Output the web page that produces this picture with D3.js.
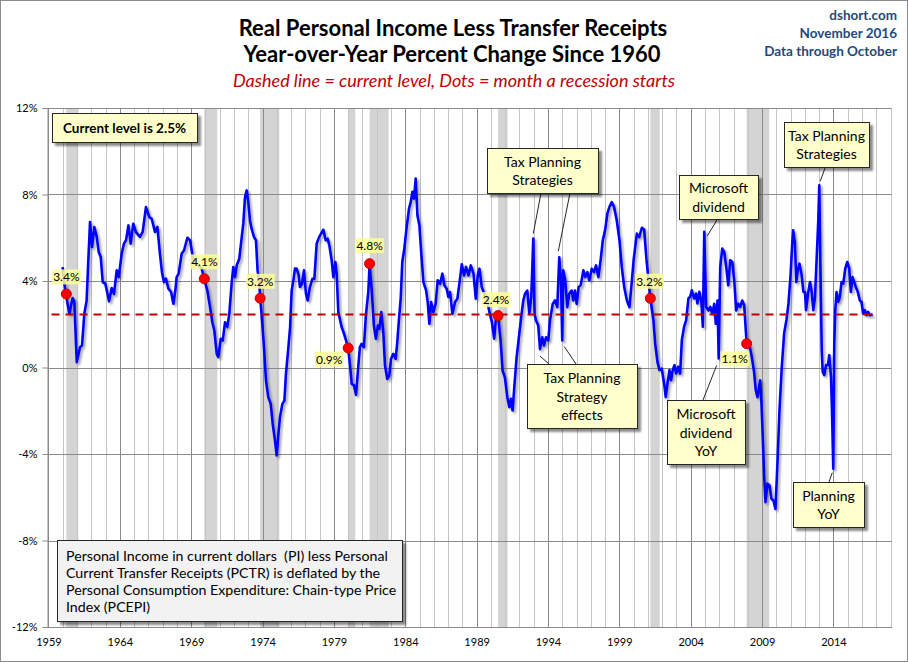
<!DOCTYPE html>
<html>
<head>
<meta charset="utf-8">
<script src="https://cdn.jsdelivr.net/npm/d3@7"></script>
<style>
  body { margin: 0; background: #fff; }
  text { font-family: Lato, "Open Sans", sans-serif; white-space: pre; }
</style>
</head>
<body>
<div id="chart"></div>
<script>
// Chart size
const width = 908;
const height = 662;

// Monthly-ish readings of the YoY % change (decimal year, value)
const dates = [
  1959.99, 1960.08, 1960.23, 1960.46, 1960.69, 1960.81, 1960.98, 1961.21, 1961.35, 1961.51, 1961.67, 1961.79, 1961.91,
  1962.05, 1962.21, 1962.38, 1962.52, 1962.66, 1962.80, 1962.98, 1963.08, 1963.24, 1963.43, 1963.59, 1963.78, 1963.92,
  1964.13, 1964.29, 1964.43, 1964.60, 1964.76, 1964.94, 1965.13, 1965.41, 1965.60, 1965.83, 1966.06, 1966.23, 1966.46,
  1966.63, 1966.81, 1966.95, 1967.09, 1967.23, 1967.40, 1967.59, 1967.75, 1967.89, 1967.98, 1968.12, 1968.33, 1968.50,
  1968.73, 1968.92, 1969.11, 1969.27, 1969.50, 1969.74, 1969.92, 1970.13, 1970.32, 1970.48, 1970.62, 1970.79, 1970.90,
  1971.07, 1971.21, 1971.37, 1971.53, 1971.67, 1971.83, 1971.95, 1972.07, 1972.19, 1972.37, 1972.54, 1972.65, 1972.77,
  1972.89, 1973.00, 1973.12, 1973.23, 1973.40, 1973.54, 1973.65, 1973.75, 1973.83, 1973.93, 1974.10, 1974.24, 1974.40,
  1974.57, 1974.71, 1974.87, 1974.99, 1975.11, 1975.22, 1975.39, 1975.53, 1975.64, 1975.81, 1975.93, 1976.04, 1976.16,
  1976.27, 1976.39, 1976.53, 1976.62, 1976.76, 1976.90, 1977.04, 1977.16, 1977.32, 1977.49, 1977.63, 1977.79, 1977.96,
  1978.10, 1978.26, 1978.42, 1978.56, 1978.68, 1978.84, 1978.96, 1979.10, 1979.19, 1979.31, 1979.54, 1979.71, 1979.85,
  1980.00, 1980.13, 1980.25, 1980.41, 1980.55, 1980.71, 1980.82, 1980.94, 1981.10, 1981.24, 1981.41, 1981.50, 1981.66,
  1981.80, 1981.94, 1982.08, 1982.18, 1982.32, 1982.46, 1982.58, 1982.74, 1982.88, 1983.00, 1983.16, 1983.33, 1983.44,
  1983.56, 1983.68, 1983.79, 1983.93, 1984.10, 1984.26, 1984.38, 1984.50, 1984.61, 1984.73, 1984.85, 1984.99, 1985.10,
  1985.27, 1985.46, 1985.57, 1985.69, 1985.81, 1985.97, 1986.13, 1986.27, 1986.44, 1986.60, 1986.74, 1986.90, 1987.02,
  1987.14, 1987.30, 1987.49, 1987.65, 1987.79, 1987.96, 1988.12, 1988.26, 1988.43, 1988.59, 1988.78, 1988.94, 1989.08,
  1989.20, 1989.36, 1989.53, 1989.71, 1989.90, 1990.07, 1990.23, 1990.37, 1990.50, 1990.68, 1990.82, 1990.98, 1991.15,
  1991.29, 1991.40, 1991.52, 1991.64, 1991.80, 1991.99, 1992.15, 1992.27, 1992.39, 1992.55, 1992.69, 1992.83, 1992.97,
  1993.06, 1993.16, 1993.32, 1993.44, 1993.60, 1993.72, 1993.86, 1994.02, 1994.14, 1994.33, 1994.49, 1994.65, 1994.79,
  1994.91, 1995.00, 1995.07, 1995.21, 1995.35, 1995.49, 1995.66, 1995.77, 1995.89, 1996.01, 1996.15, 1996.29, 1996.48,
  1996.62, 1996.76, 1996.90, 1997.07, 1997.23, 1997.37, 1997.53, 1997.70, 1997.84, 1998.00, 1998.16, 1998.30, 1998.47,
  1998.63, 1998.82, 1999.01, 1999.17, 1999.34, 1999.53, 1999.71, 1999.88, 2000.00, 2000.11, 2000.23, 2000.39, 2000.58,
  2000.74, 2000.90, 2001.17, 2001.39, 2001.51, 2001.67, 2001.81, 2001.97, 2002.14, 2002.25, 2002.37, 2002.51, 2002.62,
  2002.74, 2002.86, 2002.98, 2003.12, 2003.26, 2003.38, 2003.54, 2003.68, 2003.84, 2003.96, 2004.08, 2004.24, 2004.38,
  2004.47, 2004.61, 2004.75, 2004.85, 2004.95, 2005.08, 2005.25, 2005.37, 2005.51, 2005.65, 2005.76, 2005.88, 2005.96,
  2006.07, 2006.21, 2006.35, 2006.49, 2006.63, 2006.77, 2006.91, 2007.05, 2007.19, 2007.33, 2007.47, 2007.61, 2007.75,
  2007.92, 2008.12, 2008.28, 2008.44, 2008.56, 2008.68, 2008.77, 2008.87, 2008.96, 2009.05, 2009.15, 2009.24, 2009.38,
  2009.52, 2009.66, 2009.80, 2009.94, 2010.08, 2010.22, 2010.38, 2010.55, 2010.71, 2010.85, 2011.00, 2011.12, 2011.18,
  2011.30, 2011.40, 2011.50, 2011.62, 2011.76, 2011.90, 2012.01, 2012.08, 2012.22, 2012.36, 2012.48, 2012.59, 2012.71,
  2012.83, 2012.94, 2013.01, 2013.11, 2013.18, 2013.25, 2013.36, 2013.48, 2013.62, 2013.71, 2013.83, 2013.90, 2013.99,
  2014.06, 2014.13, 2014.22, 2014.34, 2014.45, 2014.57, 2014.69, 2014.83, 2014.97, 2015.11, 2015.22, 2015.34, 2015.46,
  2015.57, 2015.71, 2015.85, 2015.97, 2016.08, 2016.20, 2016.32, 2016.43, 2016.55, 2016.75
];
const values = [
  4.64, 4.03, 3.36, 2.48, 3.21, 3.06, 0.25, 0.94, 1.02, 2.48, 3.09, 4.94, 6.73,
  5.57, 6.50, 6.04, 5.34, 5.11, 3.95, 3.88, 3.57, 3.06, 3.67, 3.40, 4.49, 4.18,
  5.26, 5.73, 5.88, 6.57, 5.73, 6.65, 6.26, 6.04, 6.27, 7.42, 6.96, 6.88, 6.27,
  6.50, 5.26, 4.41, 3.95, 4.11, 3.65, 3.49, 2.95, 3.57, 4.18, 4.34, 5.26, 5.42,
  6.00, 5.88, 5.11, 4.80, 4.73, 4.57, 4.07, 3.56, 2.79, 2.09, 1.71, 0.63, 0.48,
  1.33, 1.25, 2.09, 1.87, 2.48, 3.87, 4.65, 4.18, 4.73, 5.03, 6.03, 6.65, 7.88,
  8.19, 7.65, 6.80, 6.42, 6.03, 5.88, 4.49, 4.03, 3.24, 2.48, 0.94, -0.60, -1.37,
  -1.68, -2.60, -3.38, -4.07, -3.07, -2.30, -1.68, -1.53, -0.29, 0.94, 1.87, 3.56, 4.03,
  4.57, 4.57, 4.26, 3.72, 3.87, 4.49, 3.41, 3.10, 3.72, 4.10, 4.10, 5.72, 6.03,
  6.19, 6.37, 5.88, 5.96, 5.65, 4.96, 4.18, 4.88, 4.34, 2.56, 1.87, 1.56, 1.25,
  0.89, 0.09, -0.76, -0.83, -1.27, 0.09, 0.94, 1.09, 0.94, 2.41, 3.49, 4.77, 3.49,
  1.94, 1.33, 1.94, 1.79, 2.56, 1.64, 0.09, -0.53, -0.37, 0.40, 0.63, 0.40, 1.17,
  2.25, 3.18, 4.88, 5.49, 6.50, 7.34, 7.65, 8.12, 7.81, 8.74, 7.04, 6.57, 5.49,
  3.95, 3.57, 3.03, 2.02, 3.03, 2.56, 2.95, 4.03, 3.87, 4.34, 3.80, 3.64, 3.26,
  3.49, 2.48, 3.03, 3.18, 3.87, 4.77, 4.26, 4.65, 4.26, 4.72, 4.34, 3.18, 4.26,
  4.57, 3.72, 3.41, 3.18, 2.56, 2.10, 1.33, 2.41, 2.44, 1.25, -0.15, -0.46, -1.37,
  -1.84, -1.45, -1.99, -0.90, 0.46, 1.56, 2.48, 3.10, 3.41, 3.56, 2.48, 3.26, 5.96,
  2.48, 2.17, 1.94, 0.85, 1.40, 1.02, 1.40, 1.25, 2.17, 2.94, 3.10, 2.79, 5.10,
  4.03, 1.25, 4.49, 4.03, 2.79, 3.41, 3.56, 3.10, 3.56, 2.94, 3.72, 3.80, 4.49,
  4.18, 4.41, 4.03, 4.57, 4.41, 4.72, 4.18, 5.03, 5.88, 6.34, 7.11, 7.42, 7.65,
  7.42, 6.80, 5.88, 4.65, 3.72, 3.10, 2.79, 4.03, 4.96, 5.57, 6.19, 6.03, 6.46,
  6.38, 5.00, 3.20, 2.18, 1.10, 0.26, -0.12, -0.05, -0.75, -1.37, -0.75, -0.12, -0.59,
  -0.12, 0.11, -0.28, 0.03, -0.28, 1.27, 1.89, 2.18, 3.19, 3.27, 3.57, 3.19, 3.42,
  2.96, 3.50, 3.03, 1.89, 6.27, 2.80, 2.64, 2.80, 2.49, 2.95, 2.02, 3.10, 0.42,
  4.65, 5.50, 5.34, 4.65, 3.80, 4.96, 4.88, 4.03, 2.64, 2.95, 2.80, 3.10, 2.87,
  1.10, 1.02, 0.48, -0.20, -1.05, -1.37, -0.98, -0.59, -1.67, -3.21, -5.06, -6.23, -5.37,
  -5.45, -6.07, -6.15, -6.54, -4.40, -1.98, 0.00, 1.60, 2.20, 2.95, 4.30, 5.80, 6.35,
  5.80, 3.95, 4.50, 4.80, 4.34, 3.49, 3.49, 2.65, 3.41, 3.95, 3.49, 2.65, 3.26,
  5.11, 6.81, 8.43, 3.72, 0.80, -0.20, -0.35, 0.11, 0.11, 0.57, -0.43, -1.98, -4.68,
  1.10, 2.65, 3.49, 3.03, 3.26, 3.95, 3.88, 4.57, 4.88, 4.57, 3.49, 4.18, 3.95,
  3.72, 3.49, 3.10, 3.03, 2.49, 2.65, 2.42, 2.57, 2.42, 2.45
];

// Recessions (start month, end month as decimal years)
const recessionStarts = [1960.25, 1969.92, 1973.83, 1980.00, 1981.50, 1990.50, 2001.17, 2007.92];
const recessionEnds = [1961.08, 1970.83, 1975.17, 1980.50, 1982.83, 1991.17, 2001.83, 2009.50];
// Value at the month each recession starts
const dotValues = [3.4, 4.1, 3.2, 0.9, 4.8, 2.4, 3.2, 1.1];

// Current level (dashed line)
const currentLevel = 2.45;
const currentLevelLabel = "Current level is 2.5%";

// Axis ticks
const yTicks = [-12, -8, -4, 0, 4, 8, 12];
const xTickYears = [1959, 1964, 1969, 1974, 1979, 1984, 1989, 1994, 1999, 2004, 2009, 2014];

// Plot area
const plotLeft = 47.5, plotRight = 891.5, plotTop = 108, plotBottom = 627;

const svg = d3.select("#chart")
  .append("svg")
  .attr("width", width)
  .attr("height", height);

const x = d3.scaleLinear().domain([1958.93, 2018.07]).range([plotLeft, plotRight]);
const y = d3.scaleLinear().domain([-12, 12]).range([plotBottom, plotTop]);

// Shadow filters
const defs = svg.append("defs");
defs.append("filter").attr("id", "lineShadow")
  .attr("x", "-5%").attr("y", "-5%").attr("width", "110%").attr("height", "110%")
  .append("feDropShadow")
  .attr("dx", 2).attr("dy", 2).attr("stdDeviation", 1.2)
  .attr("flood-color", "#000").attr("flood-opacity", 0.35);
defs.append("filter").attr("id", "boxShadow")
  .attr("x", "-10%").attr("y", "-10%").attr("width", "125%").attr("height", "130%")
  .append("feDropShadow")
  .attr("dx", 3).attr("dy", 3).attr("stdDeviation", 1)
  .attr("flood-color", "#000").attr("flood-opacity", 0.45);

// Outer frame
svg.append("rect")
  .attr("x", 0.5).attr("y", 0.5)
  .attr("width", width - 1).attr("height", height - 1)
  .attr("fill", "#fff").attr("stroke", "#8c8c8c");

// Recession bands
svg.append("g").selectAll("rect")
  .data(recessionStarts)
  .enter()
  .append("rect")
  .attr("x", d => x(d))
  .attr("y", plotTop)
  .attr("width", (d, i) => x(recessionEnds[i]) - x(d))
  .attr("height", plotBottom - plotTop)
  .attr("fill", "#d4d4d4");

// Vertical grid, one line per year
const years = d3.range(1959, 2019);
svg.append("g").selectAll("line")
  .data(years)
  .enter()
  .append("line")
  .attr("x1", d => Math.round(x(d)) + 0.5)
  .attr("x2", d => Math.round(x(d)) + 0.5)
  .attr("y1", plotTop)
  .attr("y2", plotBottom)
  .attr("stroke", d => (d - 1959) % 5 === 0 ? "#8a8a8a" : "#c4c4c4")
  .attr("stroke-width", 1);

// Horizontal grid
svg.append("g").selectAll("line")
  .data(yTicks)
  .enter()
  .append("line")
  .attr("x1", plotLeft)
  .attr("x2", plotRight)
  .attr("y1", d => Math.round(y(d)) + 0.5)
  .attr("y2", d => Math.round(y(d)) + 0.5)
  .attr("stroke", "#8a8a8a");

// Axes
const yAxis = svg.append("g")
  .attr("transform", `translate(${plotLeft},0)`)
  .call(d3.axisLeft(y).tickValues(yTicks).tickSize(5).tickFormat(d => d + "%"));
yAxis.select(".domain").attr("stroke", "#8a8a8a");
yAxis.selectAll(".tick line").attr("stroke", "#8a8a8a");
yAxis.selectAll("text").attr("font-size", 11).attr("fill", "#000").attr("dx", -2)
  .style("font-family", "Lato, sans-serif");

const xAxis = svg.append("g")
  .attr("transform", `translate(0,${plotBottom})`)
  .call(d3.axisBottom(x).tickValues(xTickYears).tickSize(0).tickPadding(11).tickFormat(d3.format("d")));
xAxis.select(".domain").attr("stroke", "#8a8a8a");
xAxis.selectAll("text").attr("font-size", 11).attr("fill", "#000")
  .style("font-family", "Lato, sans-serif");

// The series line
const line = d3.line()
  .x((d, i) => x(dates[i]))
  .y(d => y(d));

svg.append("path")
  .datum(values)
  .attr("d", line)
  .attr("fill", "none")
  .attr("stroke", "#0000ff")
  .attr("stroke-width", 2.6)
  .attr("stroke-linejoin", "round")
  .attr("filter", "url(#lineShadow)");

// Current level dashed line, drawn over the series
svg.append("line")
  .attr("x1", plotLeft + 4)
  .attr("x2", x(dates[dates.length - 1]))
  .attr("y1", y(currentLevel))
  .attr("y2", y(currentLevel))
  .attr("stroke", "#c00000")
  .attr("stroke-width", 2)
  .attr("stroke-dasharray", "8,6");

// Recession start dots with labels
const labelShift = [[0, -17], [0, -17], [0, -17], [-19, 11], [0, -18], [-2, -16], [-1, -17], [-12, 15]];
const dotGroup = svg.append("g");
recessionStarts.forEach(function(d, i) {
  const cx = x(d), cy = y(dotValues[i]);
  const lx = cx + labelShift[i][0], ly = cy + labelShift[i][1];
  const g = dotGroup.append("g");
  const t = g.append("text")
    .attr("x", lx).attr("y", ly)
    .attr("text-anchor", "middle")
    .attr("dominant-baseline", "central")
    .attr("font-size", 12)
    .text(dotValues[i].toFixed(1) + "%");
  const b = t.node().getBBox();
  g.insert("rect", "text")
    .attr("x", b.x - 1).attr("y", b.y)
    .attr("width", b.width + 2).attr("height", b.height)
    .attr("fill", "#ffff99").attr("opacity", 0.85);
  dotGroup.append("circle")
    .attr("cx", cx).attr("cy", cy).attr("r", 5)
    .attr("fill", "#ff0000").attr("stroke", "#c00000").attr("stroke-width", 1);
});

// Helper to draw a callout box with centred lines
function callout(bx, by, bw, bh, lines, opts) {
  opts = opts || {};
  const g = svg.append("g");
  g.append("rect")
    .attr("x", bx + 0.5).attr("y", by + 0.5)
    .attr("width", bw).attr("height", bh)
    .attr("fill", opts.fill || "#ffffcc")
    .attr("stroke", "#262626")
    .attr("stroke-width", 1)
    .attr("filter", "url(#boxShadow)");
  const lh = opts.lineHeight || 18.5;
  const startY = by + bh / 2 - (lines.length - 1) * lh / 2;
  lines.forEach(function(l, i) {
    g.append("text")
      .attr("x", opts.left ? bx + opts.left : bx + bw / 2)
      .attr("y", startY + i * lh)
      .attr("text-anchor", opts.left ? "start" : "middle")
      .attr("dominant-baseline", "central")
      .attr("font-size", opts.size || 14)
      .attr("font-weight", opts.bold ? "bold" : "normal")
      .attr("fill", "#000")
      .text(l);
  });
}

// Leader line from a box to a point on the series
function leader(x1, y1, date, value, dx, dy) {
  svg.append("line")
    .attr("x1", x1).attr("y1", y1)
    .attr("x2", x(date) + dx).attr("y2", y(value) + dy)
    .attr("stroke", "#262626").attr("stroke-width", 1);
}

leader(541, 193, 1992.97, 5.96, 0, -5);
leader(570, 193, 1994.79, 5.10, -1, -6);
leader(549, 364, 1993.44, 0.85, 0, 7);
leader(576, 364, 1995.00, 1.25, 2, 6);
leader(717, 220, 2004.95, 6.27, 3, 4);
leader(703, 400, 2005.96, 0.42, -2, 7);
leader(825, 168, 2013.01, 8.43, 1, -4);
leader(829, 482, 2013.99, -4.68, -1, 4);

callout(52, 113, 145, 29, [currentLevelLabel], { bold: true, size: 13.5 });
callout(487, 148, 111, 45, ["Tax Planning", "Strategies"]);
callout(527, 364, 110, 64, ["Tax Planning", "Strategy", "effects"]);
callout(679, 175, 79, 44, ["Microsoft", "dividend"]);
callout(667, 400, 78, 64, ["Microsoft", "dividend", "YoY"]);
callout(784, 122, 85, 45, ["Tax Planning", "Strategies"]);
callout(793, 482, 71, 45, ["Planning", "YoY"]);
callout(57, 540, 345, 81, [
  "Personal Income in current dollars  (PI) less Personal",
  "Current Transfer Receipts (PCTR) is deflated by the",
  "Personal Consumption Expenditure: Chain-type Price",
  "Index (PCEPI)"
], { fill: "#f2f2f2", left: 9, size: 14.2, lineHeight: 17 });

// Titles
svg.append("text")
  .attr("x", 453).attr("y", 27)
  .attr("text-anchor", "middle").attr("dominant-baseline", "central")
  .attr("font-size", 22).attr("font-weight", "bold")
  .text("Real Personal Income Less Transfer Receipts");
svg.append("text")
  .attr("x", 452).attr("y", 53)
  .attr("text-anchor", "middle").attr("dominant-baseline", "central")
  .attr("font-size", 22).attr("font-weight", "bold")
  .text("Year-over-Year Percent Change Since 1960");
svg.append("text")
  .attr("x", 454).attr("y", 80)
  .attr("text-anchor", "middle").attr("dominant-baseline", "central")
  .attr("font-size", 18).attr("font-style", "italic")
  .attr("fill", "#c00000")
  .text("Dashed line = current level, Dots = month a recession starts");

// Source block, top right
const source = ["dshort.com", "November 2016", "Data through October"];
svg.append("g").selectAll("text")
  .data(source)
  .enter()
  .append("text")
  .attr("x", 897)
  .attr("y", (d, i) => 15 + i * 18)
  .attr("text-anchor", "end").attr("dominant-baseline", "central")
  .attr("font-size", 13.5).attr("font-weight", "bold")
  .attr("fill", "#1f497d")
  .text(d => d);
</script>
</body>
</html>
